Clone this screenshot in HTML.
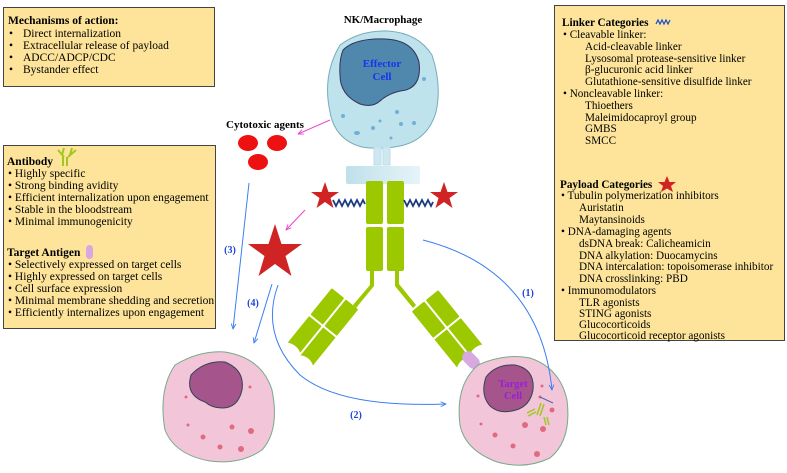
<!DOCTYPE html>
<html><head><meta charset="utf-8"><style>
body{margin:0;background:#fff}
svg{display:block;font-family:"Liberation Serif",serif}
</style></head><body>
<svg width="787" height="473" viewBox="0 0 787 473" xmlns="http://www.w3.org/2000/svg">
<defs>
<marker id="ab" viewBox="0 0 10 10" refX="9" refY="5" markerWidth="6" markerHeight="6" orient="auto"><path d="M0,1 L9,5 L0,9" fill="none" stroke="#3a7ff0" stroke-width="1.5"/></marker>
<marker id="ap" viewBox="0 0 10 10" refX="9" refY="5" markerWidth="6" markerHeight="6" orient="auto"><path d="M0,1 L9,5 L0,9" fill="none" stroke="#ee44cc" stroke-width="1.5"/></marker>
<linearGradient id="bar" x1="0" x2="1"><stop offset="0" stop-color="#bfe0ea"/><stop offset="1" stop-color="#e6f4f8"/></linearGradient>
</defs>
<!-- boxes -->
<rect x="3.5" y="7.5" width="211" height="79" fill="#fde49a" stroke="#444"/>
<text font-size="11.5"><tspan x="8" y="24" font-weight="bold">Mechanisms of action:</tspan>
<tspan x="9" y="37">•</tspan><tspan x="23" y="37">Direct internalization</tspan>
<tspan x="9" y="49">•</tspan><tspan x="23" y="49">Extracellular release of payload</tspan>
<tspan x="9" y="61">•</tspan><tspan x="23" y="61">ADCC/ADCP/CDC</tspan>
<tspan x="9" y="73">•</tspan><tspan x="23" y="73">Bystander effect</tspan></text>

<rect x="3.5" y="145.5" width="212" height="183" fill="#fde49a" stroke="#444"/>
<text font-size="11.5"><tspan x="7" y="165" font-weight="bold">Antibody</tspan>
<tspan x="8" y="177">•  Highly specific</tspan>
<tspan x="8" y="189">•  Strong binding avidity</tspan>
<tspan x="8" y="201">•  Efficient internalization upon engagement</tspan>
<tspan x="8" y="213">•  Stable in the bloodstream</tspan>
<tspan x="8" y="225">•  Minimal immunogenicity</tspan>
<tspan x="7" y="256" font-weight="bold">Target Antigen</tspan>
<tspan x="8" y="268">• Selectively expressed on target cells</tspan>
<tspan x="8" y="280">• Highly expressed on target cells</tspan>
<tspan x="8" y="292">• Cell surface expression</tspan>
<tspan x="8" y="304">• Minimal membrane shedding and secretion</tspan>
<tspan x="8" y="316">• Efficiently internalizes upon engagement</tspan></text>
<g stroke="#a0c820" stroke-width="2"><path d="M64,148 L62,155 M58,150 L64,157 M72,148 L70,155 M76,150 L68,157 M63,157 V166 M67,157 V166"/></g>
<rect x="86" y="245" width="7" height="14" rx="3.5" fill="#d8a8e0"/>

<rect x="554.5" y="5.5" width="230" height="335" fill="#fde49a" stroke="#444"/>
<text font-size="11.2"><tspan x="562" y="26" font-weight="bold">Linker Categories</tspan>
<tspan x="563" y="38">•  Cleavable linker:</tspan>
<tspan x="585" y="50">Acid-cleavable linker</tspan>
<tspan x="585" y="62">Lysosomal protease-sensitive linker</tspan>
<tspan x="585" y="73">β-glucuronic acid linker</tspan>
<tspan x="585" y="85">Glutathione-sensitive disulfide linker</tspan>
<tspan x="563" y="97">•  Noncleavable linker:</tspan>
<tspan x="585" y="109">Thioethers</tspan>
<tspan x="585" y="121">Maleimidocaproyl group</tspan>
<tspan x="585" y="132">GMBS</tspan>
<tspan x="585" y="144">SMCC</tspan>
<tspan x="560" y="188" font-weight="bold">Payload Categories</tspan>
<tspan x="561" y="199">•   Tubulin polymerization inhibitors</tspan>
<tspan x="579" y="211">Auristatin</tspan>
<tspan x="579" y="223">Maytansinoids</tspan>
<tspan x="561" y="235">• DNA-damaging agents</tspan>
<tspan x="579" y="247">dsDNA break: Calicheamicin</tspan>
<tspan x="579" y="259">DNA alkylation: Duocamycins</tspan>
<tspan x="579" y="270">DNA intercalation: topoisomerase inhibitor</tspan>
<tspan x="579" y="282">DNA crosslinking: PBD</tspan>
<tspan x="561" y="294">•   Immunomodulators</tspan>
<tspan x="579" y="306">TLR agonists</tspan>
<tspan x="579" y="317">STING agonists</tspan>
<tspan x="579" y="328">Glucocorticoids</tspan>
<tspan x="579" y="339">Glucocorticoid receptor agonists</tspan></text>
<path d="M656,24 l2,-4 l2,4 l2,-4 l2,4 l2,-4 l2,4 l2,-4" fill="none" stroke="#1a4bd0" stroke-width="1.2"/>
<polygon points="667,176 669.5,182 676,182 671,186 673,192 667,188.5 661,192 663,186 658,182 664.5,182" fill="#d02424"/>

<!-- effector cell -->
<text x="383" y="23" font-size="11" font-weight="bold" text-anchor="middle">NK/Macrophage</text>
<path d="M340,45 Q360,30 388,31 Q418,33 432,55 Q442,85 436,112 Q428,140 400,146 Q380,150 362,147 Q335,140 330,112 Q322,75 340,45Z" fill="#bfe3ec" stroke="#7ab"/>
<path d="M343,50 Q355,38 385,39 Q413,40 419,62 Q422,85 406,90 Q390,92 380,101 Q372,108 360,104 Q340,95 340,75 Q339,60 343,50Z" fill="#4f87ad" stroke="#335"/>
<text x="382" y="67" font-size="11" font-weight="bold" fill="#1a33ee" text-anchor="middle">Effector</text>
<text x="382" y="80" font-size="11" font-weight="bold" fill="#1a33ee" text-anchor="middle">Cell</text>
<g fill="#6fb0d8"><circle cx="343" cy="116" r="2"/><circle cx="373" cy="128" r="2"/><ellipse cx="357" cy="133" rx="3" ry="2"/><circle cx="380" cy="121" r="1.5"/><circle cx="391" cy="138" r="1.5"/><circle cx="401" cy="124" r="2"/><circle cx="414" cy="123" r="2"/><circle cx="397" cy="112" r="2"/><circle cx="424" cy="79" r="2"/></g>
<rect x="374" y="147" width="7" height="18" fill="#cfe8f0" stroke="#bde"/>
<rect x="383" y="147" width="7" height="18" fill="#cfe8f0" stroke="#bde"/>
<rect x="346" y="166" width="74" height="18" rx="2" fill="url(#bar)"/>
<!-- antibody -->
<g fill="#9cc800">
<rect x="366" y="181" width="17" height="43" rx="2"/><rect x="387" y="181" width="17" height="43" rx="2"/>
<rect x="366" y="227" width="17" height="44" rx="2"/><rect x="387" y="227" width="17" height="44" rx="2"/>
<path d="M370,270 h4 v16 l-18,22 l-3,-3 l17,-20Z"/><path d="M395,270 h4 v14 l17,21 l-3,3 l-18,-22Z"/>
<g transform="translate(323,326) rotate(39)"><rect x="-17" y="-35" width="16" height="34" rx="1"/><rect x="1" y="-35" width="16" height="34" rx="1"/><path d="M-17,1 h16 v34 Q-9,31 -17,35Z"/><path d="M1,1 h16 v36 Q9,32 1,37Z"/></g>
<g transform="translate(447,328) rotate(-39)"><rect x="-17" y="-35" width="16" height="34" rx="1"/><rect x="1" y="-35" width="16" height="34" rx="1"/><path d="M-17,1 h16 v36 Q-9,32 -17,37Z"/><path d="M1,1 h16 v34 Q9,31 1,35Z"/></g>
</g>
<rect x="465" y="350" width="12" height="20" rx="6" transform="rotate(-45 471 360)" fill="#d8a8e0"/>
<!-- linkers -->
<path d="M333,200 l3,6 l3,-6 l3,6 l3,-6 l3,6 l3,-6 l3,6 l3,-6 l3,6 l3,-6 l2,4" fill="none" stroke="#1a3a80" stroke-width="1.8"/>
<path d="M404,200 l3,6 l3,-6 l3,6 l3,-6 l3,6 l3,-6 l3,6 l3,-6 l3,6 l2,-4" fill="none" stroke="#1a3a80" stroke-width="1.8"/>
<!-- stars -->
<polygon points="325,182 328.5,192 339,192 330.5,198 333.5,208 325,202 316.5,208 319.5,198 311,192 321.5,192" fill="#d02424"/>
<polygon points="444,182 447.5,192 458,192 449.5,198 452.5,208 444,202 435.5,208 438.5,198 430,192 440.5,192" fill="#d02424"/>
<polygon points="275,224 281.5,244 302,244 285.5,256 291.5,276 275,264 258.5,276 264.5,256 248,244 268.5,244" fill="#d02424"/>
<!-- cytotoxic -->
<text x="265" y="128" font-size="11" font-weight="bold" text-anchor="middle">Cytotoxic agents</text>
<g fill="#ee1111"><ellipse cx="248" cy="143" rx="10" ry="8"/><ellipse cx="277" cy="143" rx="10" ry="8"/><ellipse cx="258" cy="162" rx="10" ry="8"/></g>
<line x1="330" y1="120" x2="298" y2="134" stroke="#ee44cc" marker-end="url(#ap)"/>
<line x1="305" y1="210" x2="286" y2="230" stroke="#ee44cc" marker-end="url(#ap)"/>
<!-- target cells -->
<path d="M175,365 Q200,350 225,352 Q262,358 272,390 Q280,430 262,450 Q240,465 210,461 Q175,455 165,430 Q158,390 175,365Z" fill="#f2c6d8" stroke="#7a8"/>
<path d="M191,375 Q205,360 225,362 Q245,370 242,390 Q238,408 222,408 Q212,408 205,402 Q185,395 191,375Z" fill="#a5548c" stroke="#345"/>
<g fill="#e06a80"><circle cx="250" cy="387" r="1.5"/><circle cx="186" cy="397" r="1.5"/><circle cx="188" cy="425" r="1.5"/><circle cx="232" cy="427" r="2.5"/><circle cx="251" cy="431" r="3"/><circle cx="203" cy="437" r="2.5"/><circle cx="220" cy="447" r="2.5"/><circle cx="241" cy="449" r="3"/></g>
<path d="M478,365 Q505,353 530,358 Q560,368 567,400 Q572,440 550,458 Q525,470 497,462 Q465,450 460,425 Q455,385 478,365Z" fill="#f2c6d8" stroke="#7a8"/>
<path d="M486,377 Q496,364 515,365 Q535,369 533,390 Q530,406 516,410 Q500,415 490,406 Q480,395 486,377Z" fill="#a5548c" stroke="#345"/>
<text x="513" y="387" font-size="10.5" font-weight="bold" fill="#9a1ed8" text-anchor="middle">Target</text>
<text x="513" y="399" font-size="10.5" font-weight="bold" fill="#9a1ed8" text-anchor="middle">Cell</text>
<g fill="#e06a80"><circle cx="542" cy="386" r="1.5"/><circle cx="478" cy="396" r="1.5"/><circle cx="552" cy="410" r="2.5"/><circle cx="481" cy="424" r="1.5"/><circle cx="525" cy="425" r="3"/><circle cx="543" cy="429" r="3"/><circle cx="495" cy="435" r="2.5"/><circle cx="513" cy="446" r="2.5"/><circle cx="537" cy="454" r="3"/><circle cx="540" cy="397" r="1.5"/></g>
<g stroke="#a0c820" stroke-width="1.5"><path d="M527,413 l8,-4 M528,416 l8,-4 M541,403 l-4,12 M544,404 l-4,12 M544,417 l2,8 M547,417 l2,8"/></g>
<line x1="540" y1="397" x2="553" y2="403" stroke="#5563aa"/>
<!-- arrows -->
<line x1="249" y1="183" x2="233" y2="329" stroke="#3a7ff0" marker-end="url(#ab)"/>
<text x="230" y="253" font-size="10" font-weight="bold" fill="#2044d8" text-anchor="middle">(3)</text>
<line x1="272" y1="284" x2="254" y2="343" stroke="#3a7ff0" marker-end="url(#ab)"/>
<text x="253" y="306" font-size="10" font-weight="bold" fill="#2044d8" text-anchor="middle">(4)</text>
<path d="M278,285 Q260,335 300,375 Q340,408 446,404" fill="none" stroke="#3a7ff0" marker-end="url(#ab)"/>
<text x="356" y="418" font-size="10" font-weight="bold" fill="#2044d8" text-anchor="middle">(2)</text>
<path d="M423,240 Q540,270 552,390" fill="none" stroke="#3a7ff0" marker-end="url(#ab)"/>
<text x="528" y="296" font-size="10" font-weight="bold" fill="#2044d8" text-anchor="middle">(1)</text>
</svg>
</body></html>
